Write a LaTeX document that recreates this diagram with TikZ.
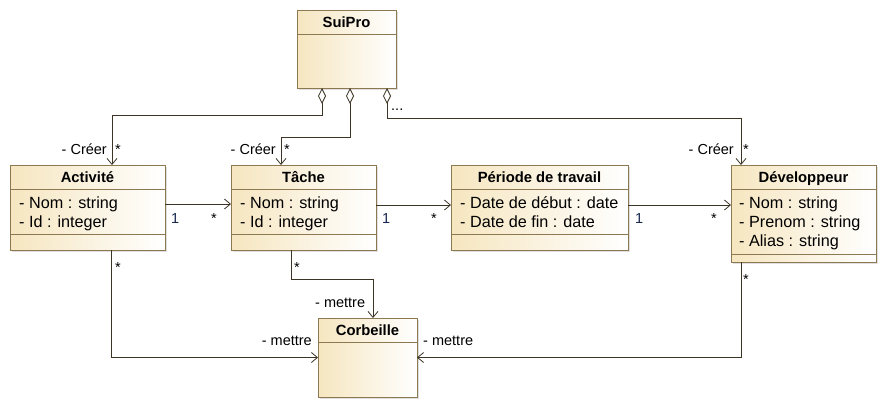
\documentclass[tikz,border=0pt]{standalone}
\usepackage{fontspec}
\setmainfont{Liberation Sans}
\usetikzlibrary{arrows.meta,shadows}
\definecolor{boxline}{RGB}{140,120,81}
\definecolor{boxfill}{RGB}{246,230,192}
\definecolor{conn}{RGB}{60,52,36}
\definecolor{mult}{RGB}{25,40,80}
\begin{document}
\begin{tikzpicture}[x=1pt,y=-1pt,
  cls/.style={draw=boxline, line width=0.9pt, left color=boxfill, right color=white,
    inner sep=0pt, outer sep=0pt, anchor=north west,
    drop shadow={shadow xshift=2pt, shadow yshift=-2pt, opacity=0.25, fill=gray}},
  sepline/.style={draw=boxline, line width=0.9pt},
  ttl/.style={font=\fontsize{14.8}{17}\selectfont\bfseries, anchor=base, inner sep=0pt},
  attr/.style={font=\fontsize{16.2}{19}\selectfont, anchor=base west, inner sep=0pt},
  lbl/.style={font=\fontsize{14.5}{17}\selectfont, inner sep=0pt},
  mlt/.style={font=\fontsize{14.5}{17}\selectfont, inner sep=0pt, text=mult},
  assoc/.style={draw=conn, line width=0.8pt, -{Straight Barb[length=6pt,width=10pt]}},
  agg/.style={draw=conn, line width=0.8pt,
    {Diamond[open,length=16pt,width=8pt,line width=0.8pt]}-{Straight Barb[length=6pt,width=10pt]}}
]
\useasboundingbox (0,0) rectangle (887,408);

% SuiPro
\node[cls, minimum width=99pt, minimum height=78pt] (sp) at (297,10) {};
\draw[sepline] ([yshift=-24pt]sp.north west) -- ([yshift=-24pt]sp.north east);
\node[ttl] (spt) at ([yshift=-17pt]sp.north) {SuiPro};

% Activite
\node[cls, minimum width=155pt, minimum height=85pt] (act) at (10,165) {};
\draw[sepline] ([yshift=-24pt]act.north west) -- ([yshift=-24pt]act.north east);
\draw[sepline] ([yshift=-69pt]act.north west) -- ([yshift=-69pt]act.north east);
\node[ttl] (actt) at ([yshift=-17pt]act.north) {Activité};
\node[attr] (acta1) at ([xshift=9pt,yshift=-43pt]act.north west) {- Nom : string};
\node[attr] (acta2) at ([xshift=9pt,yshift=-62pt]act.north west) {- Id : integer};

% Tache
\node[cls, minimum width=145pt, minimum height=85pt] (tac) at (231,165) {};
\draw[sepline] ([yshift=-24pt]tac.north west) -- ([yshift=-24pt]tac.north east);
\draw[sepline] ([yshift=-69pt]tac.north west) -- ([yshift=-69pt]tac.north east);
\node[ttl] (tact) at ([yshift=-17pt]tac.north) {Tâche};
\node[attr] (taca1) at ([xshift=9pt,yshift=-43pt]tac.north west) {- Nom : string};
\node[attr] (taca2) at ([xshift=9pt,yshift=-62pt]tac.north west) {- Id : integer};

% Periode
\node[cls, minimum width=177pt, minimum height=85pt] (per) at (451,165) {};
\draw[sepline] ([yshift=-24pt]per.north west) -- ([yshift=-24pt]per.north east);
\draw[sepline] ([yshift=-69pt]per.north west) -- ([yshift=-69pt]per.north east);
\node[ttl] (pert) at ([yshift=-17pt]per.north) {Période de travail};
\node[attr] (pera1) at ([xshift=9pt,yshift=-43pt]per.north west) {- Date de début : date};
\node[attr] (pera2) at ([xshift=9pt,yshift=-62pt]per.north west) {- Date de fin : date};

% Developpeur
\node[cls, minimum width=145pt, minimum height=97pt] (dev) at (731,165) {};
\draw[sepline] ([yshift=-24pt]dev.north west) -- ([yshift=-24pt]dev.north east);
\draw[sepline] ([yshift=-89pt]dev.north west) -- ([yshift=-89pt]dev.north east);
\node[ttl] (devt) at ([yshift=-17pt]dev.north) {Développeur};
\node[attr] (deva1) at ([xshift=8pt,yshift=-43pt]dev.north west) {- Nom : string};
\node[attr] (deva2) at ([xshift=8pt,yshift=-62pt]dev.north west) {- Prenom : string};
\node[attr] (deva3) at ([xshift=8pt,yshift=-81pt]dev.north west) {- Alias : string};

% Corbeille
\node[cls, minimum width=99pt, minimum height=79pt] (cor) at (318,318) {};
\draw[sepline] ([yshift=-24pt]cor.north west) -- ([yshift=-24pt]cor.north east);
\node[ttl] (cort) at ([yshift=-17pt]cor.north) {Corbeille};

% Aggregations from SuiPro
\draw[agg] ([xshift=25pt]sp.south west) -- ++(0,27) -| ([xshift=102pt]act.north west);
\draw[agg] ([xshift=53pt]sp.south west) -- ++(0,49) -| ([xshift=50pt]tac.north west);
\draw[agg] ([xshift=90pt]sp.south west) -- ++(0,30) -| ([xshift=10pt]dev.north west);

% Horizontal associations
\draw[assoc] ([yshift=3.5pt]act.east) -- ([yshift=3.5pt]act.east -| tac.west);
\draw[assoc] ([yshift=2.5pt]tac.east) -- ([yshift=2.5pt]tac.east -| per.west);
\draw[assoc] ([yshift=2.5pt]per.east) -- ([yshift=2.5pt]per.east -| dev.west);

% To Corbeille
\draw[assoc] ([xshift=101pt]act.south west) |- (cor.west);
\draw[assoc] ([xshift=60pt]tac.south west) -- ++(0,29) -| ([xshift=55pt]cor.north west);
\draw[assoc] ([xshift=10pt]dev.south west) |- (cor.east);

% Labels
\node[lbl, anchor=base east] (l1) at (107,154) {- Créer};
\node[lbl, anchor=base west] (m1) at (115,154) {*};
\node[lbl, anchor=base east] (l2) at (276,154) {- Créer};
\node[lbl, anchor=base west] (m2) at (284,154) {*};
\node[lbl, anchor=base east] (l3) at (734,154) {- Créer};
\node[lbl, anchor=base west] (m3) at (743,154) {*};
\node[lbl, anchor=base west] (dots) at (391,110) {...};

\node[mlt, anchor=base west] (n1) at (171,223) {1};
\node[lbl, anchor=base west] (n2) at (211,223) {*};
\node[mlt, anchor=base west] (n3) at (382,223) {1};
\node[lbl, anchor=base west] (n4) at (431,223) {*};
\node[mlt, anchor=base west] (n5) at (635,223) {1};
\node[lbl, anchor=base west] (n6) at (711,223) {*};

\node[lbl, anchor=base west] (b1) at (115,272) {*};
\node[lbl, anchor=base west] (b2) at (294,272) {*};
\node[lbl, anchor=base west] (b3) at (743,284) {*};

\node[lbl, anchor=base west] (t1) at (315,307) {- mettre};
\node[lbl, anchor=base east] (t2) at (312,345) {- mettre};
\node[lbl, anchor=base west] (t3) at (423,345) {- mettre};
\end{tikzpicture}
\end{document}
